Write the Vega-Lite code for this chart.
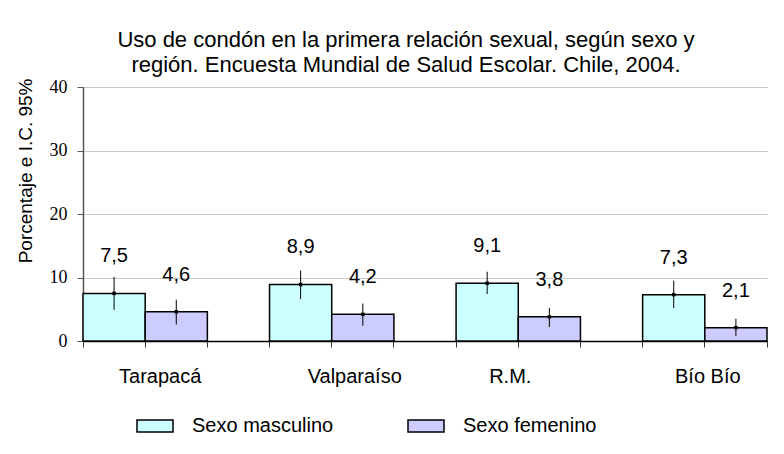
{
  "$schema": "https://vega.github.io/schema/vega-lite/v6.json",
  "width": 684,
  "height": 254,
  "autosize": {"type": "none"},
  "padding": {"left": 83, "top": 87, "right": 17, "bottom": 113},
  "background": "white",
  "config": {
    "view": {"stroke": null},
    "font": "Liberation Sans",
    "locale": {"number": {"decimal": ",", "thousands": ".", "grouping": [3], "currency": ["$", ""]}}
  },
  "title": {
    "text": ["Uso de condón en la primera relación sexual, según sexo y", "región. Encuesta Mundial de Salud Escolar. Chile, 2004."],
    "font": "Liberation Sans",
    "fontSize": 22,
    "fontWeight": "normal",
    "lineHeight": 25,
    "color": "black",
    "anchor": "middle",
    "frame": "group",
    "offset": 1,
    "dx": -19
  },
  "data": {
    "values": [
      {"region": "Tarapacá", "sex": "Sexo masculino", "value": 7.5, "lo": 4.9, "hi": 10.1},
      {"region": "Tarapacá", "sex": "Sexo femenino", "value": 4.6, "lo": 2.6, "hi": 6.5},
      {"region": "Valparaíso", "sex": "Sexo masculino", "value": 8.9, "lo": 6.6, "hi": 11.1},
      {"region": "Valparaíso", "sex": "Sexo femenino", "value": 4.2, "lo": 2.4, "hi": 5.9},
      {"region": "R.M.", "sex": "Sexo masculino", "value": 9.1, "lo": 7.4, "hi": 10.9},
      {"region": "R.M.", "sex": "Sexo femenino", "value": 3.8, "lo": 2.2, "hi": 5.2},
      {"region": "Bío Bío", "sex": "Sexo masculino", "value": 7.3, "lo": 5.2, "hi": 9.5},
      {"region": "Bío Bío", "sex": "Sexo femenino", "value": 2.1, "lo": 0.8, "hi": 3.5}
    ]
  },
  "resolve": {"axis": {"x": "independent"}},
  "layer": [
    {
      "mark": {"type": "bar", "stroke": "black", "strokeWidth": 1.5},
      "encoding": {
        "x": {
          "field": "region", "type": "nominal",
          "sort": ["Tarapacá", "Valparaíso", "R.M.", "Bío Bío"],
          "scale": {"paddingInner": 0.3333, "paddingOuter": 0},
          "axis": {
            "orient": "bottom", "title": null, "bandPosition": 0.5,
            "labelAngle": 0, "labelFont": "Liberation Sans", "labelFontSize": 20, "labelColor": "black",
            "labelPadding": 19, "tickSize": 6, "tickColor": "#333", "domainColor": "black", "domainWidth": 1.5,
            "grid": false,
            "labelOffset": {"condition": [
              {"test": "datum.value === 'R.M.'", "value": -8},
              {"test": "datum.value === 'Valparaíso'", "value": 23},
              {"test": "datum.value === 'Bío Bío'", "value": 3}
            ], "value": 15}
          }
        },
        "xOffset": {"field": "sex", "type": "nominal", "sort": ["Sexo masculino", "Sexo femenino"], "scale": {"paddingInner": 0, "paddingOuter": 0}},
        "y": {
          "field": "value", "type": "quantitative",
          "scale": {"domain": [0, 40], "nice": false},
          "axis": {
            "title": "Porcentaje e I.C. 95%",
            "titleFont": "Liberation Sans", "titleFontSize": 19, "titleFontWeight": "normal", "titleColor": "black",
            "titleAnchor": "end", "titleY": -9, "titlePadding": 14,
            "values": [0, 10, 20, 30, 40],
            "labelFont": "Liberation Serif", "labelFontSize": 18, "labelColor": "black", "labelPadding": 10,
            "tickSize": 6, "tickColor": "#555", "domainColor": "#555", "domainWidth": 1.5,
            "grid": true, "gridColor": "#c8c8c8", "gridWidth": 1
          }
        },
        "fill": {
          "field": "sex", "type": "nominal",
          "sort": ["Sexo masculino", "Sexo femenino"],
          "scale": {"domain": ["Sexo masculino", "Sexo femenino"], "range": ["#CCFFFF", "#CCCCFF"]},
          "legend": {
            "title": null, "orient": "none", "legendX": 53, "legendY": 320,
            "direction": "horizontal", "columns": 2, "padding": 0,
            "symbolType": "M-1,-0.333H1V0.333H-1Z", "symbolSize": 1296,
            "symbolStrokeColor": "black", "symbolStrokeWidth": 1.5,
            "labelFont": "Liberation Sans", "labelFontSize": 20, "labelColor": "black",
            "labelOffset": 18, "columnPadding": 71, "labelLimit": 300
          }
        }
      }
    },
    {
      "mark": {"type": "rule", "color": "black", "strokeWidth": 1},
      "encoding": {
        "x": {
          "field": "region", "type": "nominal",
          "sort": ["Tarapacá", "Valparaíso", "R.M.", "Bío Bío"],
          "axis": {"orient": "bottom", "title": null, "bandPosition": 0, "labels": false, "domain": false, "grid": false, "tickSize": 6, "tickColor": "#333"}
        },
        "xOffset": {"field": "sex", "type": "nominal", "sort": ["Sexo masculino", "Sexo femenino"]},
        "y": {"field": "lo", "type": "quantitative", "title": "Porcentaje e I.C. 95%"},
        "y2": {"field": "hi"}
      }
    },
    {
      "mark": {"type": "point", "shape": "square", "filled": true, "color": "black", "size": 12, "opacity": 1},
      "encoding": {
        "x": {
          "field": "region", "type": "nominal",
          "sort": ["Tarapacá", "Valparaíso", "R.M.", "Bío Bío"],
          "axis": {"orient": "bottom", "title": null, "bandPosition": 1, "labels": false, "domain": false, "grid": false, "tickSize": 6, "tickColor": "#333"}
        },
        "xOffset": {"field": "sex", "type": "nominal", "sort": ["Sexo masculino", "Sexo femenino"]},
        "y": {"field": "value", "type": "quantitative", "title": "Porcentaje e I.C. 95%"}
      }
    },
    {
      "mark": {"type": "text", "font": "Liberation Sans", "fontSize": 20, "color": "black", "baseline": "middle", "dy": -37},
      "encoding": {
        "x": {"field": "region", "type": "nominal", "sort": ["Tarapacá", "Valparaíso", "R.M.", "Bío Bío"], "axis": null},
        "xOffset": {"field": "sex", "type": "nominal", "sort": ["Sexo masculino", "Sexo femenino"]},
        "y": {"field": "value", "type": "quantitative", "title": "Porcentaje e I.C. 95%"},
        "text": {"field": "value", "type": "quantitative", "format": ".1f"}
      }
    }
  ]
}
